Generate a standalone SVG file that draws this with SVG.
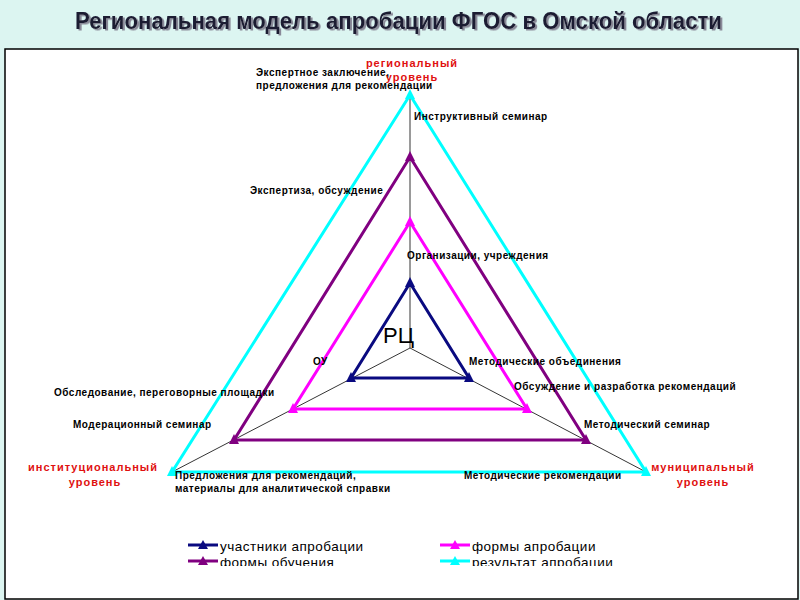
<svg xmlns="http://www.w3.org/2000/svg" width="800" height="600" viewBox="0 0 800 600">
<style>
.lbl{font-family:"Liberation Sans",Arial,sans-serif;font-size:10px;font-weight:bold;fill:#000;letter-spacing:0.5px}
.red{font-family:"Liberation Sans",Arial,sans-serif;font-size:11px;font-weight:bold;fill:#e01010;letter-spacing:1px}
.leg{font-family:"Liberation Sans",Arial,sans-serif;font-size:13.5px;fill:#000;letter-spacing:0.5px}
.ttl{font-family:"Liberation Sans",Arial,sans-serif;font-size:24px;font-weight:bold}
.axis{stroke:#000;stroke-width:0.8;fill:none}
.tri{fill:none;stroke-width:3;stroke-linejoin:miter}
</style>
<defs>
<filter id="shadow" x="-5%" y="-30%" width="110%" height="160%"><feDropShadow dx="2" dy="1.5" stdDeviation="0.4" flood-color="#8a8a99" flood-opacity="1"/></filter>
<marker id="mNavy" viewBox="0 0 10 10" refX="5" refY="6" markerWidth="10" markerHeight="10" markerUnits="userSpaceOnUse"><path d="M5,0 L10,10 L0,10 Z" fill="#0a0a80"/></marker>
<marker id="mPurple" viewBox="0 0 10 10" refX="5" refY="6" markerWidth="10" markerHeight="10" markerUnits="userSpaceOnUse"><path d="M5,0 L10,10 L0,10 Z" fill="#800080"/></marker>
<marker id="mMag" viewBox="0 0 10 10" refX="5" refY="6" markerWidth="10" markerHeight="10" markerUnits="userSpaceOnUse"><path d="M5,0 L10,10 L0,10 Z" fill="#ff00ff"/></marker>
<marker id="mCyan" viewBox="0 0 10 10" refX="5" refY="6" markerWidth="10" markerHeight="10" markerUnits="userSpaceOnUse"><path d="M5,0 L10,10 L0,10 Z" fill="#00ffff"/></marker>
<clipPath id="legClip"><rect x="150" y="530" width="500" height="36"/></clipPath>
</defs>
<rect x="0" y="0" width="800" height="600" fill="#dcf5f1"/>
<text class="ttl" x="75" y="29" textLength="647" lengthAdjust="spacingAndGlyphs" fill="#1a1a33" filter="url(#shadow)">Региональная модель апробации ФГОС в Омской области</text>
<rect x="5" y="49" width="793" height="550" fill="#fff" stroke="#000" stroke-width="1.5"/>

<g id="connectors">
<line class="axis" x1="410" y1="348" x2="410" y2="95"/>
<line class="axis" x1="410" y1="348" x2="172" y2="472"/>
<line class="axis" x1="410" y1="348" x2="646" y2="472"/>
</g>

<g id="series-cyan">
<polygon class="tri" stroke="#00ffff" points="410,95 646,472 172,472"/>
<path d="M410,95 L646,472 L172,472" fill="none" stroke="none" marker-start="url(#mCyan)" marker-mid="url(#mCyan)" marker-end="url(#mCyan)"/>
</g>
<g id="series-purple">
<polygon class="tri" stroke="#800080" points="410,157 586,440 234,440"/>
<path d="M410,157 L586,440 L234,440" fill="none" stroke="none" marker-start="url(#mPurple)" marker-mid="url(#mPurple)" marker-end="url(#mPurple)"/>
</g>
<g id="series-magenta">
<polygon class="tri" stroke="#ff00ff" points="410,222 527,409 293,409"/>
<path d="M410,222 L527,409 L293,409" fill="none" stroke="none" marker-start="url(#mMag)" marker-mid="url(#mMag)" marker-end="url(#mMag)"/>
</g>
<g id="series-navy">
<polygon class="tri" stroke="#0a0a80" points="410,283 469,378 351,378"/>
<path d="M410,283 L469,378 L351,378" fill="none" stroke="none" marker-start="url(#mNavy)" marker-mid="url(#mNavy)" marker-end="url(#mNavy)"/>
</g>

<g id="labels">
<text class="red" x="412" y="67" text-anchor="middle">региональный</text>
<text class="red" x="412" y="81" text-anchor="middle">уровень</text>
<text class="lbl" x="256" y="76">Экспертное заключение,</text>
<text class="lbl" x="256" y="89">предложения для рекомендации</text>
<text class="lbl" x="414" y="120">Инструктивный семинар</text>
<text class="lbl" x="250" y="194">Экспертиза, обсуждение</text>
<text class="lbl" x="407" y="259">Организации, учреждения</text>
<text x="383" y="343" style="font-family:'Liberation Sans',Arial,sans-serif;font-size:22px;fill:#000">РЦ</text>
<text class="lbl" x="313" y="365">ОУ</text>
<text class="lbl" x="469" y="365">Методические объединения</text>
<text class="lbl" x="54" y="396">Обследование, переговорные площадки</text>
<text class="lbl" x="514" y="390">Обсуждение и разработка рекомендаций</text>
<text class="lbl" x="73" y="428">Модерационный семинар</text>
<text class="lbl" x="584" y="428">Методический семинар</text>
<text class="red" x="93" y="471" text-anchor="middle">институциональный</text>
<text class="red" x="95" y="486" text-anchor="middle">уровень</text>
<text class="red" x="703" y="471" text-anchor="middle">муниципальный</text>
<text class="red" x="703" y="486" text-anchor="middle">уровень</text>
<text class="lbl" x="175" y="479">Предложения для рекомендаций,</text>
<text class="lbl" x="175" y="492">материалы для аналитической справки</text>
<text class="lbl" x="464" y="479">Методические рекомендации</text>
</g>

<g id="legend" clip-path="url(#legClip)">
<line x1="188" y1="545" x2="218" y2="545" stroke="#0a0a80" stroke-width="3"/>
<path d="M203,540 L208,549 L198,549 Z" fill="#0a0a80"/>
<text class="leg" x="220" y="551">участники апробации</text>
<line x1="188" y1="561" x2="218" y2="561" stroke="#800080" stroke-width="3"/>
<path d="M203,556 L208,565 L198,565 Z" fill="#800080"/>
<text class="leg" x="220" y="567">формы обучения</text>
<line x1="440" y1="545" x2="470" y2="545" stroke="#ff00ff" stroke-width="3"/>
<path d="M455,540 L460,549 L450,549 Z" fill="#ff00ff"/>
<text class="leg" x="472" y="551">формы апробации</text>
<line x1="440" y1="561" x2="470" y2="561" stroke="#00ffff" stroke-width="3"/>
<path d="M455,556 L460,565 L450,565 Z" fill="#00ffff"/>
<text class="leg" x="472" y="567">результат апробации</text>
</g>
</svg>
